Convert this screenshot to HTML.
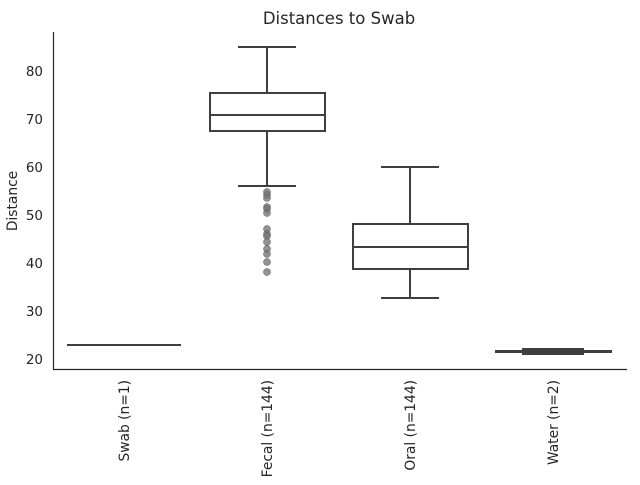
<!DOCTYPE html><html><head><style>body{margin:0;background:#fff}</style></head><body>
<svg width="640" height="480" xmlns="http://www.w3.org/2000/svg" font-family="DejaVu Sans, sans-serif">
<rect width="640" height="480" fill="#fff"/>
<text x="339" y="24" font-size="16.5" text-anchor="middle" fill="#262626">Distances to Swab</text>
<line x1="53.5" y1="32" x2="53.5" y2="369.5" stroke="#262626" stroke-width="1.2"/>
<line x1="53" y1="369.5" x2="627" y2="369.5" stroke="#262626" stroke-width="1.2"/>
<g font-size="13.5" fill="#262626" text-anchor="end">
<text x="43" y="76">80</text><text x="43" y="124">70</text><text x="43" y="172">60</text><text x="43" y="220">50</text><text x="43" y="268">40</text><text x="43" y="316">30</text><text x="43" y="364">20</text>
</g>
<text transform="translate(17,201) rotate(-90)" font-size="13.8" fill="#262626" text-anchor="middle">Distance</text>
<g font-size="13.8" fill="#262626" text-anchor="end">
<text transform="translate(129,380) rotate(-90)">Swab (n=1)</text>
<text transform="translate(272,380) rotate(-90)">Fecal (n=144)</text>
<text transform="translate(415,380) rotate(-90)">Oral (n=144)</text>
<text transform="translate(558,380) rotate(-90)">Water (n=2)</text>
</g>
<g stroke="#3f3f3f" stroke-width="2" fill="none">
<line x1="67" y1="345" x2="181" y2="345"/>
<rect x="210" y="93" width="115" height="38"/>
<line x1="210" y1="115" x2="325" y2="115"/>
<line x1="267" y1="93" x2="267" y2="47"/><line x1="238" y1="47" x2="296" y2="47"/>
<line x1="267" y1="131" x2="267" y2="186"/><line x1="238" y1="186" x2="296" y2="186"/>
<rect x="353" y="224" width="115" height="45"/>
<line x1="353" y1="247" x2="468" y2="247"/>
<line x1="410" y1="224" x2="410" y2="167"/><line x1="381" y1="167" x2="439" y2="167"/>
<line x1="410" y1="269" x2="410" y2="298"/><line x1="381" y1="298" x2="439" y2="298"/>
<line x1="495" y1="351.5" x2="612" y2="351.5" stroke-width="3"/>
<rect x="523" y="349" width="60" height="5" fill="#3f3f3f"/>
</g>
<g fill="#777" fill-opacity="0.8" stroke="#555" stroke-width="0.5">
<circle cx="267" cy="192" r="3.5"/><circle cx="267" cy="195" r="3.5"/><circle cx="267" cy="198" r="3.5"/>
<circle cx="267" cy="207" r="3.5"/><circle cx="267" cy="209" r="3.5"/><circle cx="267" cy="213" r="3.5"/>
<circle cx="267" cy="229" r="3.5"/><circle cx="267" cy="234" r="3.5"/><circle cx="267" cy="236" r="3.5"/><circle cx="267" cy="242" r="3.5"/>
<circle cx="267" cy="249" r="3.5"/><circle cx="267" cy="254" r="3.5"/><circle cx="267" cy="262" r="3.5"/><circle cx="267" cy="272" r="3.5"/>
</g>
</svg></body></html>
